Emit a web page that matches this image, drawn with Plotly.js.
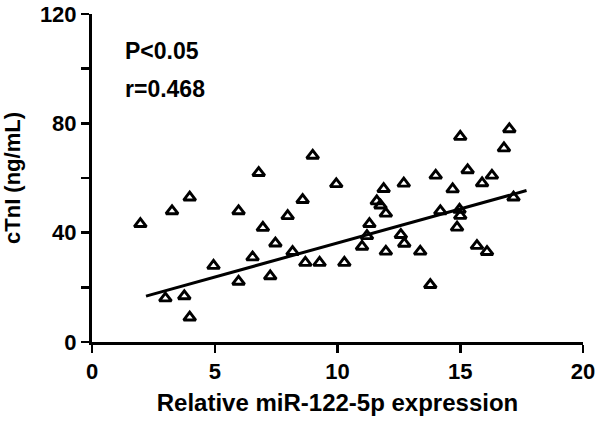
<!DOCTYPE html>
<html>
<head>
<meta charset="utf-8">
<script src="https://cdn.plot.ly/plotly-3.0.1.min.js"></script>
<style>html,body{margin:0;padding:0;background:#fff;}#chart{width:600px;height:423px;}</style>
</head>
<body>
<div id="chart"></div>
<script>
// Relative miR-122-5p expression
const mirExpression = [1.97, 2.99, 3.26, 3.76, 3.98, 3.98, 4.95, 5.97, 5.97, 6.54,
  6.79, 6.96, 7.26, 7.47, 7.97, 8.17, 8.58, 8.69, 8.99, 9.27,
  9.95, 10.28, 11.0, 11.2, 11.3, 11.6, 11.75, 11.88, 11.97, 11.97,
  12.58, 12.72, 12.70, 13.37, 13.78, 14.0, 14.19, 14.69, 14.97, 15.0,
  14.87, 15.0, 15.3, 15.68, 15.89, 16.09, 16.29, 16.78, 17.0, 17.17];
// cTnI (ng/mL)
const ctni = [43.2, 16.0, 47.9, 16.8, 52.9, 9.0, 27.9, 47.9, 22.1, 31.0,
  61.9, 41.8, 24.1, 36.1, 46.1, 33.0, 52.0, 29.0, 68.2, 29.0,
  57.8, 29.0, 34.9, 38.8, 43.2, 51.5, 50.0, 56.0, 47.0, 33.1,
  39.2, 36.0, 58.0, 33.1, 20.9, 60.9, 47.9, 55.9, 48.4, 46.2,
  41.9, 75.1, 62.9, 35.2, 58.1, 33.0, 60.9, 70.9, 77.9, 52.9];
// regression line end points
const fitX = [2.2, 17.7];
const fitY = [16.8, 55.4];

const xTicks = [0, 5, 10, 15, 20];
const yTicks = [0, 20, 40, 60, 80, 100, 120];
const yTickText = ['0', '', '40', '', '80', '', '120'];

const annotationText = ['P&lt;0.05', 'r=0.468'];

const FONT = 'Liberation Sans, Arial, sans-serif';

const traces = [
  {
    x: mirExpression, y: ctni, type: 'scatter', mode: 'markers',
    marker: {symbol: 'triangle-up-open', size: 10.5, color: '#000', line: {color: '#000', width: 2.9}},
    hoverinfo: 'skip', showlegend: false, cliponaxis: false
  },
  {
    x: fitX, y: fitY, type: 'scatter', mode: 'lines',
    line: {color: '#000', width: 3}, hoverinfo: 'skip', showlegend: false
  }
];

const layout = {
  width: 600, height: 423,
  margin: {l: 92, r: 17, t: 14, b: 81},
  paper_bgcolor: '#fff', plot_bgcolor: '#fff',
  font: {family: FONT, color: '#000'},
  showlegend: false,
  xaxis: {
    range: [0, 20], tickvals: xTicks, ticktext: xTicks.map(String),
    showgrid: false, zeroline: false, showline: true, linecolor: '#000', linewidth: 3,
    ticks: 'outside', ticklen: 8, tickwidth: 2.5, tickcolor: '#000',
    tickfont: {family: FONT, size: 22, color: '#000', weight: 'bold'},
    title: {text: '<b>Relative miR-122-5p expression</b>', font: {family: FONT, size: 24, color: '#000'}, standoff: 11}
  },
  yaxis: {
    range: [0, 120], tickvals: yTicks, ticktext: yTickText,
    showgrid: false, zeroline: false, showline: true, linecolor: '#000', linewidth: 3,
    ticks: 'outside', ticklen: 8, tickwidth: 2.5, tickcolor: '#000',
    tickfont: {family: FONT, size: 22, color: '#000', weight: 'bold'},
    title: {text: '<b>cTnI (ng/mL)</b>', font: {family: FONT, size: 22, color: '#000'}, standoff: 14}
  },
  annotations: [
    {x: 1.26, y: 106.3, xref: 'x', yref: 'y', xanchor: 'left', yanchor: 'middle', showarrow: false,
     text: '<b>' + annotationText[0] + '</b>', font: {family: FONT, size: 23, color: '#000'}},
    {x: 1.26, y: 92.7, xref: 'x', yref: 'y', xanchor: 'left', yanchor: 'middle', showarrow: false,
     text: '<b>' + annotationText[1] + '</b>', font: {family: FONT, size: 23, color: '#000'}}
  ]
};

Plotly.newPlot('chart', traces, layout, {staticPlot: true, displayModeBar: false});
</script>
</body>
</html>
